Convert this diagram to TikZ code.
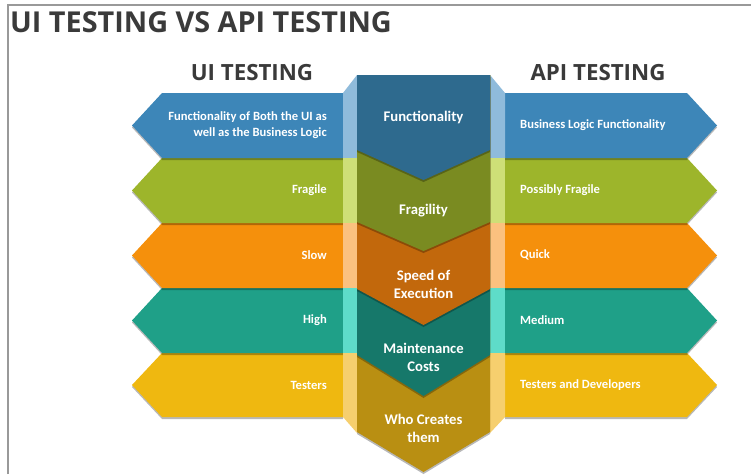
\documentclass[tikz,border=0pt]{standalone}
\usepackage{fontspec}
\setmainfont{Carlito}
\newfontfamily\titlefont{Open Sans}
\definecolor{bluA}{HTML}{3D86B8}\definecolor{bluC}{HTML}{2E6A8E}\definecolor{bluL}{HTML}{8FBBDB}
\definecolor{grnA}{HTML}{9DB52B}\definecolor{grnC}{HTML}{7A8B21}\definecolor{grnL}{HTML}{CEDF77}
\definecolor{ornA}{HTML}{F5900C}\definecolor{ornC}{HTML}{C2680C}\definecolor{ornL}{HTML}{FBC17F}
\definecolor{teaA}{HTML}{1FA088}\definecolor{teaC}{HTML}{16786A}\definecolor{teaL}{HTML}{5EDCC9}
\definecolor{yelA}{HTML}{EFB810}\definecolor{yelC}{HTML}{B98F12}\definecolor{yelL}{HTML}{F6CF6E}
\definecolor{ink}{HTML}{3A3A3A}
\tikzset{
  shade/.style={fill=black,fill opacity=0.28},
  sidetxt/.style={text=white,font=\bfseries\fontsize{12.6}{16}\selectfont,inner sep=0pt},
  midtxt/.style={text=white,font=\bfseries\fontsize{14.7}{18}\selectfont,inner sep=0pt,align=center},
  headtxt/.style={text=ink,font=\titlefont\bfseries\fontsize{22.3}{25}\selectfont,inner sep=0pt,anchor=base},
}
\begin{document}
\begin{tikzpicture}[x=1pt,y=-1pt]
\useasboundingbox (0,0) rectangle (751,474);
\fill[white] (0,0) rectangle (751,474);
% frame
\draw[gray!80,line width=1.5pt] (8,474) -- (8,5) -- (751,5);
% title and headers
\node[text=ink,font=\titlefont\bfseries\fontsize{28.8}{32}\selectfont,inner sep=0pt,anchor=base west] (title) at (10,32) {UI TESTING VS API TESTING};
\node[headtxt] (uihead) at (252,80) {UI TESTING};
\node[headtxt] (apihead) at (598,80) {API TESTING};
% side arrows, bottom row first so shadows fall on lower rows
\foreach \t/\b/\cA/\cL in {353/417/yelA/yelL,288/353/teaA/teaL,223/288/ornA/ornL,158/223/grnA/grnL,93/158/bluA/bluL}{
  \pgfmathsetmacro\m{(\t+\b)/2}
  \fill[shade] (343,\t+2) -- (162,\t+2) -- (132,\m+2) -- (162,\b+2) -- (343,\b+2) -- cycle;
  \fill[shade] (505,\t+2) -- (687,\t+2) -- (717,\m+2) -- (687,\b+2) -- (505,\b+2) -- cycle;
  \fill[\cA] (343,\t) -- (162,\t) -- (132,\m) -- (162,\b) -- (343,\b) -- cycle;
  \fill[\cA] (505,\t) -- (687,\t) -- (717,\m) -- (687,\b) -- (505,\b) -- cycle;
}
% light strips
\fill[bluL] (343,93) -- (357,75) -- (357,158) -- (343,158) -- cycle;
\fill[bluL] (505,93) -- (490,75) -- (490,158) -- (505,158) -- cycle;
\foreach \t/\b/\cL in {158/223/grnL,223/288/ornL,288/353/teaL}{
  \fill[\cL] (343,\t) rectangle (357,\b);
  \fill[\cL] (490,\t) rectangle (505,\b);
}
\fill[yelL] (343,353) -- (357,353) -- (357,433) -- (343,417) -- cycle;
\fill[yelL] (505,353) -- (490,353) -- (490,433) -- (505,417) -- cycle;
% centre column segments, last first
\foreach \s/\v/\cC in {432/472/yelC,355/396/teaC,289/325/ornC,222/251/grnC,150/180/bluC}{
  \fill[shade] (357,77) -- (490,77) -- (490,\s+2) -- (423.5,\v+2) -- (357,\s+2) -- cycle;
  \fill[\cC] (357,75) -- (490,75) -- (490,\s) -- (423.5,\v) -- (357,\s) -- cycle;
}
% centre labels
\node[midtxt] (c1) at (423.5,117) {Functionality};
\node[midtxt] (c2) at (423.5,211) {Fragility};
\node[midtxt] (c3) at (423.5,284) {Speed of\\Execution};
\node[midtxt] (c4) at (423.5,357) {Maintenance\\Costs};
\node[midtxt] (c5) at (423.5,428) {Who Creates\\them};
% UI side labels
\node[sidetxt,anchor=east,align=right] (l1) at (327,125) {Functionality of Both the UI as\\well as the Business Logic};
\node[sidetxt,anchor=east] (l2) at (327,190) {Fragile};
\node[sidetxt,anchor=east] (l3) at (327,255) {Slow};
\node[sidetxt,anchor=east] (l4) at (327,320) {High};
\node[sidetxt,anchor=east] (l5) at (327,385) {Testers};
% API side labels
\node[sidetxt,anchor=west] (r1) at (520,125) {Business Logic Functionality};
\node[sidetxt,anchor=west] (r2) at (520,190) {Possibly Fragile};
\node[sidetxt,anchor=west] (r3) at (520,255) {Quick};
\node[sidetxt,anchor=west] (r4) at (520,320) {Medium};
\node[sidetxt,anchor=west] (r5) at (520,385) {Testers and Developers};
\end{tikzpicture}
\end{document}
